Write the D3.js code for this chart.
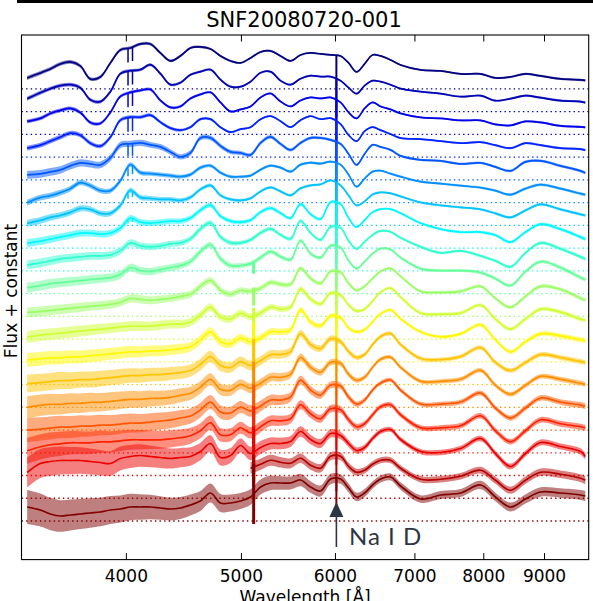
<!DOCTYPE html>
<html><head><meta charset="utf-8">
<script src="https://cdn.jsdelivr.net/npm/d3@7"></script>
<style>body{margin:0;background:#fff}svg{display:block}</style>
</head><body>
<svg id="chart" width="593" height="601"></svg>
<script>
// ---------------- data ----------------
const title = "SNF20080720-001";
const xLabel = "Wavelength [Å]";
const yLabel = "Flux + constant";
const xTicks = [4000, 5000, 6000, 7000, 8000, 9000];
const wavelengths = [3300,3385,3452,3519,3588,3658,3730,3803,3878,3954,
  4031,4110,4191,4273,4357,4442,4529,4618,4709,4801,
  4895,4991,5089,5189,5290,5394,5500,5607,5717,5829,
  5944,6060,6155,6251,6349,6448,6549,6677,6808,7077,
  7357,7648,7951,8183,8425,8673,8932,9285,9652,9740];
const offsetStep = 22.74;   // "+ constant" between consecutive spectra
const flux0 = [11,16,20,25,27,23,10,12,26,39,41,45,45,36,28,33,41,42,40,33,28,26,31,37,38,33,28,34,36,35,34, 33,26,17,25,34,33,29,24,19,18,15,15,11,12,15,13,10,9,8.5];
const flux1 = [13,19,23,26,27,24,12,10,20,38,41,42,47,38,27,29,37,40,42,32,25,25,30,39,40,31,27,33,36,35,35, 31,24,18,26,31,30,27,23,20,18,15,16,11,13,16,14,11,10,9];
const flux2 = [13,16,21,24,26,22,12,11,22,38,42,44,45,34,27,28,36,40,42,32,23,25,28,37,41,33,28,34,37,36,37, 32,22,16,26,32,28,25,21,17,16,14,14,10,9,13,12,8.5,7.5,7];
const flux3 = [9,12,16,20,24,22,14,11,20,37,40,40,42,35,29,27,30,38,38,30,25,28,30,38,41,36,30,37,41,38,39, 33,22,16,26,30,27,23,19,18,16,14,15,12,9,14,12,9,8,7];
const flux4 = [5,6,8,10,14,17,16,15,22,35,36,37,35,33,28,23,27,42,42,34,28,27,25,37,43,36,30,37,42,42,40, 36,26,15,26,35,33,30,24,20,19,16,17,13,9,18,19,14,9,7];
const flux5 = [0,5,7,10,14,20,17,12,12,22,38,30,29,28,27,26,28,35,37,30,26,26,27,33,37,35,31,38,40,39,41, 38,28,16,24,31,32,29,26,21,19,17,15,12,8,14,18,14,9,8];
const flux6 = [2,5,8,10,13,17,16,12,12,20,35,28,27,26,26,25,28,36,40,30,26,25,27,34,38,34,30,37,40,41,45, 40,30,20,24,31,33,32,29,23,20,18,16,12,8,15,21,16,11,10];
const flux7 = [5,7,9,11,13,15,15,14,15,20,30,26,25,26,27,27,30,38,43,32,27,26,28,36,40,35,30,44,34,29,46, 44,30,21,28,36,39,39,35,25,19,16,16,13,6,16,24,19,11,9];
const flux8 = [6,8,10,12,13,14,15,15,16,20,28,25,24,25,27,28,32,42,48,34,28,28,31,38,42,36,32,50,38,31,44, 43,30,22,29,36,40,39,33,24,18,20,15,10,4,18,28,22,14,12];
const flux9 = [6,8,10,11,12,13,14,15,16,19,26,23,22,24,26,28,32,42,49,35,28,28,30,36,42,37,34,53,40,36,48, 46,33,25,32,40,45,44,36,25,23,23,21,15,8,22,32,26,16,14];
const flux10 = [4,5,6,7,8,9,10,11,12,14,18,17,16,17,18,20,22,30,36,26,22,26,25,28,34,32,32,48,38,33,45, 44,33,26,30,38,45,48,40,25,24,25,30,18,9,20,30,27,18,16];
const flux11 = [2,4,5,6,7,8,9,10,11,12,13,13,13,14,15,15,17,24,32,22,20,26,22,26,32,30,32,50,40,35,46, 44,34,28,30,38,47,51,42,26,25,26,34,20,10,20,30,27,20,19];
const flux12 = [2,3,4,4,5,5,6,7,8,9,10,10,11,11,12,13,15,22,30,20,18,24,20,24,30,30,32,52,40,36,46, 44,34,30,32,40,48,52,43,30,25,28,37,22,10,20,28,26,22,21];
const flux13 = [1,2,3,4,4,5,5,6,7,8,9,9,10,10,11,12,14,20,28,19,17,23,19,24,30,30,33,51,40,36,46, 43,33,27,30,40,48,51,40,26,25,28,37,22,14,22,30,27,23,22];
const flux14 = [0,2,3,3,4,4,5,5,6,7,8,8,9,9,10,12,14,20,28,18,17,23,19,24,30,30,33,50,40,35,45, 44,33,27,30,40,48,50,40,26,26,28,37,22,13,22,31,28,24,23];
const flux15 = [0,1,2,3,3,4,4,5,5,6,7,7,8,9,10,12,14,20,28,18,17,23,19,24,30,30,33,50,40,35,45, 44,33,26,30,40,47,50,40,26,26,28,37,22,12,22,32,28,25,24];
const flux16 = [2,6,8,9,10,10,10,11,11,12,13,13,13,13,14,15,17,22,30,18,18,25,20,26,32,32,34,48,39,34,44, 43,33,26,29,38,46,48,38,25,25,27,37,22,11,22,33,29,26,25];
const flux17 = [3,12,14,15,15,15,14,13,12,17,19,20,19,18,17,18,19,24,32,18,20,30,22,28,32,32,34,44,36,32,42, 40,32,25,28,37,44,46,36,24,23,27,37,22,9,22,33,29,24,19];
const flux18 = [null,null,null,null,null,null,null,null,null,null,null,null,null,null,null,null,null,null,null,null,null,null,30,34,38,36,35,40,33,30,42, 42,32,26,28,34,38,38,30,19,19,22,28,18,8,18,26,24,20,18];
const flux19 = [14,11,7,5,6,7,8,9,11,12,14,14,14,13,12,13,16,20,28,18,18,20,24,34,38,38,38,41,34,30,42, 42,33,24,28,36,42,44,35,22,26,28,36,24,14,22,29,28,26,25];
const fluxSeries = [flux0,flux1,flux2,flux3,flux4,flux5,flux6,flux7,flux8,flux9,
  flux10,flux11,flux12,flux13,flux14,flux15,flux16,flux17,flux18,flux19];
// narrow host-galaxy / instrumental features
const caHK = [4013, 4048];
const caDepth = [14,14,14,14,12,8,5,3,0,0,0,0,0,0,0,0,0,0,0,0];
const naD = 6011;
const naDepth = [62,62,62,62,62,62,62,60,60,60,58,58,55,55,50,50,40,30,35,30];
const dichroic = 5120;
const dichroicUp = [0,0,0,0,0,0,0,0,0,0,3,8,18,25,25,25,25,25,12,30];
const dichroicDown = [0,0,0,0,0,0,0,0,0,12,15,22,30,35,35,35,35,30,20,30];
// noise half-amplitude at 3300, 5000, 6500, 9740 A
const noiseWl = [3300, 5000, 6500, 9740];
const noiseLevels = [[2,1,0.8,1.2],[2,1,0.8,1.2],[2,1,0.8,1.2],[2.5,1,0.8,1.2],[4,2,1,1.5],
  [3,1.5,1,1.5],[3.5,1.5,1,1.5],[4,2,1,1.8],[4.5,2.2,1.2,1.8],[5,2.5,1.2,2],
  [5,3,1.3,2],[6,3.5,1.5,2.2],[7,4,1.5,2.5],[9,5,2,2.5],[11,5,2,2.5],
  [12,6,2,3],[13,6,2.5,3],[15,7,2.5,3.2],[6,6,3,4],[17,8,3.5,5]];

// ---------------- chart ----------------
const plot = {left: 21.5, right: 588.7, top: 35, bottom: 559.6};
const svg = d3.select("#chart");
const nS = fluxSeries.length;
const x = d3.scaleLog().domain([3264, 9805]).range([plot.left, plot.right]);
const y = d3.scaleLinear().domain([-38.6, 486]).range([plot.bottom, plot.top]);
const jet = t => {
  const c = v => Math.max(0, Math.min(1, v));
  return d3.rgb(255*c(1.5-Math.abs(4*t-3)), 255*c(1.5-Math.abs(4*t-2)), 255*c(1.5-Math.abs(4*t-1))).toString();
};

svg.append("rect").attr("x",17).attr("y",0).attr("width",576).attr("height",3).attr("fill","#000");

svg.append("defs").append("clipPath").attr("id","clip")
  .append("rect").attr("x",plot.left).attr("y",plot.top)
  .attr("width",plot.right-plot.left).attr("height",plot.bottom-plot.top);

const g = svg.append("g").attr("clip-path","url(#clip)");
const curve = d3.curveCatmullRom.alpha(0.5);

function fluxAt(f, w) {
  for (let k = 0; k < wavelengths.length-1; k++) {
    if (w >= wavelengths[k] && w <= wavelengths[k+1]) {
      if (f[k] == null || f[k+1] == null) return null;
      const t = Math.log(w/wavelengths[k]) / Math.log(wavelengths[k+1]/wavelengths[k]);
      return f[k] + t*(f[k+1]-f[k]);
    }
  }
  return null;
}

fluxSeries.forEach((f, i) => {
  const col = jet(i/(nS-1));
  const off = (nS-1-i)*offsetStep;
  const noise = d3.scaleLinear().domain(noiseWl).range(noiseLevels[i]);
  const pts = wavelengths.map((w,k) => ({w, f: f[k]}));
  g.append("line").attr("x1",plot.left).attr("x2",plot.right)
    .attr("y1",y(off)).attr("y2",y(off))
    .attr("stroke",col).attr("stroke-width",1.3).attr("stroke-dasharray","1.4,3.2");
  g.append("path").datum(pts)
    .attr("d", d3.area().defined(d=>d.f!=null).curve(curve)
      .x(d=>x(d.w)).y0(d=>y(d.f+off)+noise(d.w)).y1(d=>y(d.f+off)-noise(d.w)))
    .attr("fill",col).attr("opacity",0.5);
  g.append("path").datum(pts)
    .attr("d", d3.line().defined(d=>d.f!=null).curve(curve).x(d=>x(d.w)).y(d=>y(d.f+off)))
    .attr("fill","none").attr("stroke",col).attr("stroke-width",1.7).attr("stroke-linejoin","round");
  caHK.forEach(w => {
    const v = fluxAt(f, w);
    if (v == null || caDepth[i] <= 0) return;
    g.append("line").attr("x1",x(w)).attr("x2",x(w))
      .attr("y1",y(v+off)).attr("y2",y(v+off)+caDepth[i])
      .attr("stroke",col).attr("stroke-width",1.5);
  });
  const vd = fluxAt(f, dichroic);
  if (vd != null && dichroicUp[i]+dichroicDown[i] > 0) {
    g.append("line").attr("x1",x(dichroic)).attr("x2",x(dichroic))
      .attr("y1",y(vd+off)-dichroicUp[i]).attr("y2",y(vd+off)+dichroicDown[i])
      .attr("stroke",col).attr("stroke-width",3);
  }
  const vn = fluxAt(f, naD);
  if (vn != null) {
    g.append("line").attr("x1",x(naD)).attr("x2",x(naD))
      .attr("y1",y(vn+off)).attr("y2",y(vn+off)+naDepth[i])
      .attr("stroke",col).attr("stroke-width",2);
  }
});

svg.append("rect").attr("x",plot.left).attr("y",plot.top)
  .attr("width",plot.right-plot.left).attr("height",plot.bottom-plot.top)
  .attr("fill","none").attr("stroke","#000").attr("stroke-width",1.1);

xTicks.forEach(t => {
  svg.append("line").attr("x1",x(t)).attr("x2",x(t)).attr("y1",plot.bottom).attr("y2",plot.bottom-6.5)
    .attr("stroke","#000").attr("stroke-width",1);
  svg.append("line").attr("x1",x(t)).attr("x2",x(t)).attr("y1",plot.top).attr("y2",plot.top+6.5)
    .attr("stroke","#000").attr("stroke-width",1);
  svg.append("text").attr("x",x(t)).attr("y",582).attr("text-anchor","middle")
    .attr("font-family","DejaVu Sans").attr("font-size",17).attr("fill","#000").text(t);
});

svg.append("text").attr("x",(plot.left+plot.right)/2).attr("y",603).attr("text-anchor","middle")
  .attr("font-family","DejaVu Sans").attr("font-size",17).text(xLabel);
svg.append("text").attr("transform","translate(16.5,291) rotate(-90)").attr("text-anchor","middle")
  .attr("font-family","DejaVu Sans").attr("font-size",17).text(yLabel);
svg.append("text").attr("x",304).attr("y",27).attr("text-anchor","middle")
  .attr("font-family","DejaVu Sans").attr("font-size",21).text(title);

const xa = x(naD);
svg.append("line").attr("x1",xa).attr("x2",xa).attr("y1",547).attr("y2",515)
  .attr("stroke","#2e3644").attr("stroke-width",1.6);
svg.append("path").attr("d",`M${xa},502 L${xa-7},517 L${xa+7},517 Z`).attr("fill","#2e3644");
svg.append("text").attr("x",349).attr("y",545).attr("font-family","Lato").attr("font-size",24)
  .attr("letter-spacing",1).attr("fill","#2e3644").text("Na I D");
</script>
</body></html>
